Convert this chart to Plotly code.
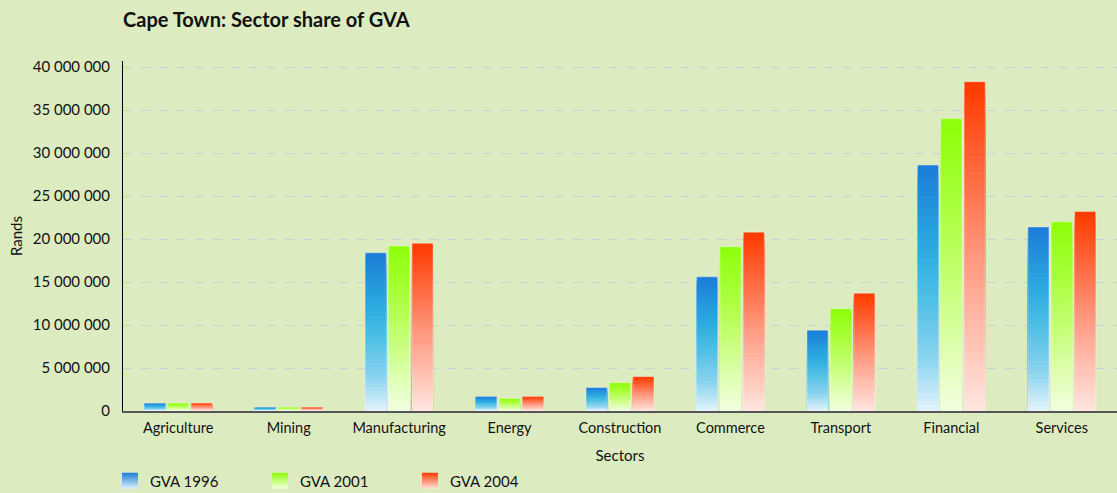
import plotly.graph_objects as go

# ---- data ----
sectors = ["Agriculture", "Mining", "Manufacturing", "Energy", "Construction",
           "Commerce", "Transport", "Financial", "Services"]
gva_1996 = [900000, 420000, 18400000, 1690000, 2730000, 15600000, 9400000, 28600000, 21400000]
gva_2001 = [920000, 420000, 19200000, 1450000, 3300000, 19100000, 11900000, 34000000, 22000000]
gva_2004 = [920000, 420000, 19500000, 1690000, 4000000, 20800000, 13700000, 38300000, 23200000]
series_names = ["GVA 1996", "GVA 2001", "GVA 2004"]
y_ticks = [0, 5000000, 10000000, 15000000, 20000000, 25000000, 30000000, 35000000, 40000000]
y_tick_text = ["0", "5 000 000", "10 000 000", "15 000 000", "20 000 000",
               "25 000 000", "30 000 000", "35 000 000", "40 000 000"]

# gradient stops (position from top 0 -> bottom 1, colour)
gradients = [
    [(0.0, (28, 126, 216)), (0.35, (45, 172, 223)), (0.55, (80, 192, 230)),
     (0.8, (140, 212, 239)), (1.0, (221, 242, 251))],
    [(0.0, (142, 255, 10)), (0.3, (170, 255, 60)), (0.55, (195, 255, 115)),
     (0.8, (222, 255, 175)), (1.0, (240, 255, 222))],
    [(0.0, (255, 60, 0)), (0.3, (255, 110, 70)), (0.55, (255, 155, 130)),
     (0.8, (255, 195, 180)), (1.0, (255, 228, 222))],
]

def interp(stops, t):
    for (p0, c0), (p1, c1) in zip(stops[:-1], stops[1:]):
        if p0 <= t <= p1:
            f = 0 if p1 == p0 else (t - p0) / (p1 - p0)
            c = [round(a + (b - a) * f) for a, b in zip(c0, c1)]
            return "rgb(%d,%d,%d)" % tuple(c)
    return "rgb(%d,%d,%d)" % stops[-1][1]

N = 40
fig = go.Figure()
all_series = [gva_1996, gva_2001, gva_2004]
for s, (name, vals, stops) in enumerate(zip(series_names, all_series, gradients)):
    for k in range(N):
        frac = (N - k) / N
        fig.add_trace(go.Bar(
            x=sectors, y=[v * frac for v in vals], name=name,
            offsetgroup=str(s), showlegend=False, hoverinfo="skip",
            marker=dict(color=interp(stops, k / (N - 1)), line=dict(width=0)),
        ))
    # subtle light outline
    fig.add_trace(go.Bar(
        x=sectors, y=vals, name=name, offsetgroup=str(s), showlegend=False,
        marker=dict(color="rgba(0,0,0,0)", line=dict(width=1, color="rgba(255,255,255,0.35)")),
    ))

# legend entries with gradient swatches
for name, stops in zip(series_names, gradients):
    fig.add_trace(go.Scatter(
        x=[None], y=[None], mode="markers", name=name,
        marker=dict(symbol="square", size=20, color=interp(stops, 0.0),
                    gradient=dict(type="vertical", color=interp(stops, 1.0))),
    ))

font_family = "Lato, 'Open Sans', sans-serif"
fig.update_layout(
    width=1117, height=493,
    paper_bgcolor="#DDEBC1", plot_bgcolor="#DDEBC1",
    margin=dict(l=123, r=0, t=61, b=82),
    barmode="group", bargap=0.365, bargroupgap=0.1,
    font=dict(family=font_family, size=15, color="#111"),
    title=dict(text="<b>Cape Town: Sector share of GVA</b>", x=123 / 1117, xanchor="left",
               y=1 - 20 / 493, yanchor="middle", font=dict(size=20, color="#111")),
    showlegend=True,
    legend=dict(orientation="h", x=-13 / 994, xanchor="left", yref="container", y=12 / 493,
                yanchor="middle", entrywidth=105, entrywidthmode="pixels",
                font=dict(size=15), bgcolor="rgba(0,0,0,0)"),
    xaxis=dict(showline=True, linecolor="#555", linewidth=2, ticks="", showgrid=False,
               ticklabelstandoff=3,
               title=dict(text="Sectors", standoff=17, font=dict(size=15)),
               tickfont=dict(size=14.5)),
    yaxis=dict(range=[0, 40700000], tickvals=y_ticks, ticktext=y_tick_text,
               showline=True, linecolor="#000", linewidth=1, ticks="",
               ticklabelstandoff=9, showgrid=True, gridcolor="#C7D2D6", griddash="dash",
               gridwidth=1, zeroline=False,
               title=dict(text="Rands", standoff=6, font=dict(size=15))),
)
fig.write_html("out.html", config={"displayModeBar": False},
               post_script="document.body.style.margin='0';")
